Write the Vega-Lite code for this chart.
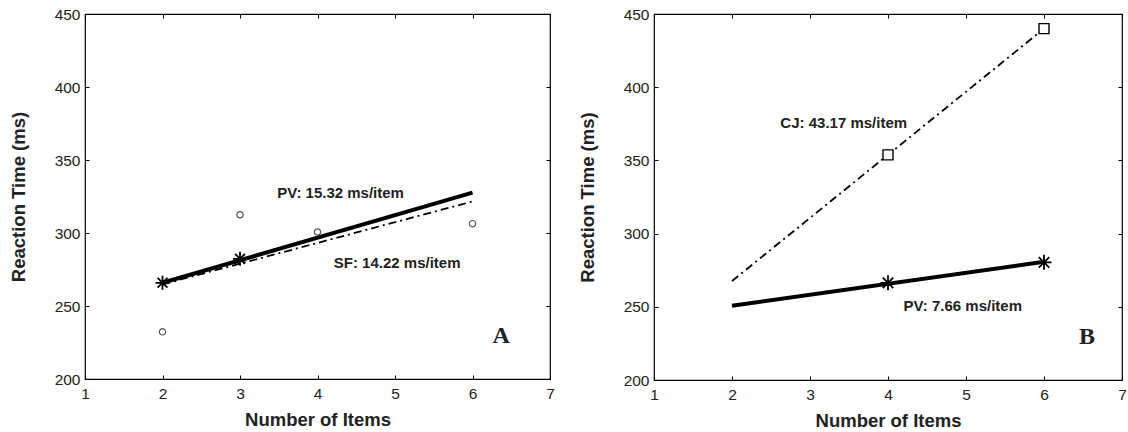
{
  "$schema": "https://vega.github.io/schema/vega-lite/v6.json",
  "background": "white",
  "padding": {"left": 8, "top": 6, "right": 4, "bottom": 4},
  "bounds": "flush",
  "spacing": 104,
  "config": {
    "view": {"stroke": "black", "strokeWidth": 1.2},
    "axis": {
      "domain": false, "grid": false, "tickColor": "black", "tickSize": -4, "tickWidth": 1,
      "labelFont": "Liberation Sans", "labelFontSize": 15.5, "labelColor": "#222", "labelFlush": false,
      "titleFont": "Liberation Sans", "titleFontSize": 18.5, "titleFontWeight": "bold", "titleColor": "#222"
    }
  },
  "datasets": {
    "fits": [
      {"panel": "A", "series": "PV", "x": 2, "y": 265.9},
      {"panel": "A", "series": "PV", "x": 6, "y": 327.7},
      {"panel": "A", "series": "SF", "x": 2, "y": 264.8},
      {"panel": "A", "series": "SF", "x": 6, "y": 321.6},
      {"panel": "B", "series": "PV", "x": 2, "y": 250.7},
      {"panel": "B", "series": "PV", "x": 6, "y": 280.7},
      {"panel": "B", "series": "CJ", "x": 2, "y": 267.6},
      {"panel": "B", "series": "CJ", "x": 6, "y": 440.0}
    ],
    "obs": [
      {"panel": "A", "series": "PV", "x": 2, "y": 265.9},
      {"panel": "A", "series": "PV", "x": 3, "y": 282.3},
      {"panel": "A", "series": "SF", "x": 2, "y": 232.3},
      {"panel": "A", "series": "SF", "x": 3, "y": 312.5},
      {"panel": "A", "series": "SF", "x": 4, "y": 300.7},
      {"panel": "A", "series": "SF", "x": 6, "y": 306.4},
      {"panel": "B", "series": "PV", "x": 4, "y": 266.4},
      {"panel": "B", "series": "PV", "x": 6, "y": 280.4},
      {"panel": "B", "series": "CJ", "x": 4, "y": 353.8},
      {"panel": "B", "series": "CJ", "x": 6, "y": 440.0}
    ],
    "notes": [
      {"panel": "A", "kind": "slope", "x": 3.48, "y": 327.3, "text": "PV: 15.32 ms/item"},
      {"panel": "A", "kind": "slope", "x": 4.21, "y": 279.5, "text": "SF: 14.22 ms/item"},
      {"panel": "A", "kind": "tag", "x": 6.37, "y": 229.5, "text": "A"},
      {"panel": "B", "kind": "slope", "x": 2.62, "y": 375.7, "text": "CJ: 43.17 ms/item"},
      {"panel": "B", "kind": "slope", "x": 4.2, "y": 250.7, "text": "PV: 7.66 ms/item"},
      {"panel": "B", "kind": "tag", "x": 6.55, "y": 229.7, "text": "B"}
    ]
  },
  "hconcat": [
    {
      "width": 465, "height": 365,
      "encoding": {
        "x": {"field": "x", "type": "quantitative", "scale": {"domain": [1, 7], "nice": false, "zero": false}, "axis": null},
        "y": {"field": "y", "type": "quantitative", "scale": {"domain": [200, 450], "nice": false, "zero": false}, "axis": null}
      },
      "resolve": {"axis": {"x": "independent", "y": "independent"}},
      "layer": [
        {
          "data": {"name": "fits"},
          "transform": [{"filter": "datum.panel == 'A' && datum.series == 'PV'"}],
          "mark": {"type": "line", "color": "black", "strokeWidth": 4},
          "encoding": {
            "x": {"field": "x", "type": "quantitative", "axis": {"orient": "bottom", "values": [1, 2, 3, 4, 5, 6, 7], "title": "Number of Items", "labelPadding": 11, "titleY": 40, "titleBaseline": "middle"}},
            "y": {"field": "y", "type": "quantitative", "axis": {"orient": "left", "values": [200, 250, 300, 350, 400, 450], "title": "Reaction Time (ms)", "labelPadding": 9, "titleX": -67, "titleBaseline": "middle"}}
          }
        },
        {
          "data": {"name": "fits"},
          "transform": [{"filter": "datum.panel == 'A' && datum.series != 'PV'"}],
          "mark": {"type": "line", "color": "black", "strokeWidth": 1.8, "strokeDash": [8, 4, 2, 4]},
          "encoding": {
            "x": {"field": "x", "type": "quantitative", "axis": {"orient": "top", "values": [1, 2, 3, 4, 5, 6, 7], "labels": false, "title": null}},
            "y": {"field": "y", "type": "quantitative", "axis": {"orient": "right", "values": [200, 250, 300, 350, 400, 450], "labels": false, "title": null}}
          }
        },
        {
          "data": {"name": "obs"},
          "transform": [{"filter": "datum.panel == 'A' && datum.series == 'PV'"}],
          "mark": {"type": "point", "shape": "M-1,0L1,0M0,-1L0,1M-0.7,-0.7L0.7,0.7M-0.7,0.7L0.7,-0.7", "filled": false, "stroke": "black", "strokeWidth": 1.8, "size": 196, "opacity": 1}
        },
        {
          "data": {"name": "obs"},
          "transform": [{"filter": "datum.panel == 'A' && datum.series == 'SF'"}],
          "mark": {"type": "point", "shape": "circle", "filled": false, "stroke": "#555", "strokeWidth": 1.2, "size": 40, "opacity": 1}
        },
        {
          "data": {"name": "notes"},
          "transform": [{"filter": "datum.panel == 'A' && datum.kind == 'slope'"}],
          "mark": {"type": "text", "align": "left", "baseline": "middle", "font": "Liberation Sans", "fontSize": 15, "fontWeight": "bold", "color": "#222"},
          "encoding": {"text": {"field": "text"}}
        },
        {
          "data": {"name": "notes"},
          "transform": [{"filter": "datum.panel == 'A' && datum.kind == 'tag'"}],
          "mark": {"type": "text", "align": "center", "baseline": "middle", "font": "Liberation Serif", "fontSize": 24, "fontWeight": "bold", "color": "#222"},
          "encoding": {"text": {"field": "text"}}
        }
      ]
    },
    {
      "width": 468, "height": 366,
      "encoding": {
        "x": {"field": "x", "type": "quantitative", "scale": {"domain": [1, 7], "nice": false, "zero": false}, "axis": null},
        "y": {"field": "y", "type": "quantitative", "scale": {"domain": [200, 450], "nice": false, "zero": false}, "axis": null}
      },
      "resolve": {"axis": {"x": "independent", "y": "independent"}},
      "layer": [
        {
          "data": {"name": "fits"},
          "transform": [{"filter": "datum.panel == 'B' && datum.series == 'PV'"}],
          "mark": {"type": "line", "color": "black", "strokeWidth": 4},
          "encoding": {
            "x": {"field": "x", "type": "quantitative", "axis": {"orient": "bottom", "values": [1, 2, 3, 4, 5, 6, 7], "title": "Number of Items", "labelPadding": 11, "titleY": 40, "titleBaseline": "middle"}},
            "y": {"field": "y", "type": "quantitative", "axis": {"orient": "left", "values": [200, 250, 300, 350, 400, 450], "title": "Reaction Time (ms)", "labelPadding": 9, "titleX": -67, "titleBaseline": "middle"}}
          }
        },
        {
          "data": {"name": "fits"},
          "transform": [{"filter": "datum.panel == 'B' && datum.series != 'PV'"}],
          "mark": {"type": "line", "color": "black", "strokeWidth": 1.8, "strokeDash": [8, 4, 2, 4]},
          "encoding": {
            "x": {"field": "x", "type": "quantitative", "axis": {"orient": "top", "values": [1, 2, 3, 4, 5, 6, 7], "labels": false, "title": null}},
            "y": {"field": "y", "type": "quantitative", "axis": {"orient": "right", "values": [200, 250, 300, 350, 400, 450], "labels": false, "title": null}}
          }
        },
        {
          "data": {"name": "obs"},
          "transform": [{"filter": "datum.panel == 'B' && datum.series == 'PV'"}],
          "mark": {"type": "point", "shape": "M-1,0L1,0M0,-1L0,1M-0.7,-0.7L0.7,0.7M-0.7,0.7L0.7,-0.7", "filled": false, "stroke": "black", "strokeWidth": 1.8, "size": 225, "opacity": 1}
        },
        {
          "data": {"name": "obs"},
          "transform": [{"filter": "datum.panel == 'B' && datum.series == 'CJ'"}],
          "mark": {"type": "point", "shape": "square", "filled": true, "fill": "white", "stroke": "black", "strokeWidth": 1.4, "size": 100, "opacity": 1}
        },
        {
          "data": {"name": "notes"},
          "transform": [{"filter": "datum.panel == 'B' && datum.kind == 'slope'"}],
          "mark": {"type": "text", "align": "left", "baseline": "middle", "font": "Liberation Sans", "fontSize": 15, "fontWeight": "bold", "color": "#222"},
          "encoding": {"text": {"field": "text"}}
        },
        {
          "data": {"name": "notes"},
          "transform": [{"filter": "datum.panel == 'B' && datum.kind == 'tag'"}],
          "mark": {"type": "text", "align": "center", "baseline": "middle", "font": "Liberation Serif", "fontSize": 24, "fontWeight": "bold", "color": "#222"},
          "encoding": {"text": {"field": "text"}}
        }
      ]
    }
  ]
}
